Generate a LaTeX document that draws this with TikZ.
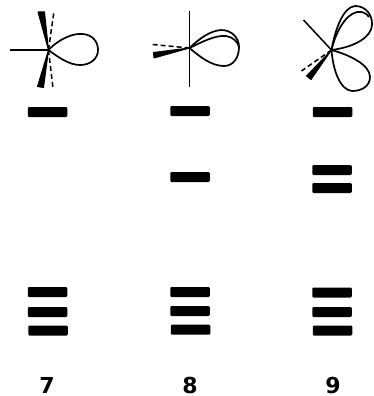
\documentclass[tikz,border=0pt]{standalone}
\usepackage{fontspec}
\setmainfont{DejaVu Sans}
\tikzset{
  level/.style={fill=black,rounded corners=1.2pt,minimum width=39.5pt,minimum height=10pt,inner sep=0pt,outer sep=0pt},
  lobe/.style={line width=1.7pt,line join=round},
  axis/.style={line width=1.5pt},
  dashaxis/.style={line width=1.5pt,dash pattern=on 5pt off 3pt},
  wedge/.style={fill=black,line join=round,draw=black,line width=1pt},
  lab/.style={font=\bfseries\fontsize{22}{22}\selectfont,inner sep=0pt}
}
\begin{document}
\begin{tikzpicture}[x=1pt,y=-1pt]
\useasboundingbox (0,0) rectangle (373,396);
% column 7
\coordinate (c7) at (48.5,50);
\coordinate (l7) at (10,50);
\coordinate (dt7) at (54,11);
\coordinate (db7) at (53,88);
\draw[axis] (l7) -- (c7);
\draw[dashaxis] (c7) -- (dt7);
\draw[dashaxis] (c7) -- (db7);
\fill[wedge] (c7) -- (44.5,12) -- (38,12) -- cycle;
\fill[wedge] (c7) -- (43.5,87.5) -- (37.5,86.5) -- cycle;
\draw[lobe] (c7) .. controls (60,38) and (74,33) .. (83,34) .. controls (93,35) and (98,42) .. (98,50) .. controls (98,59) and (90,65) .. (80,65) .. controls (69,65) and (58,57) .. (c7);
\node[level] (a1) at (47.5,112) {};
\node[level] (a2) at (47.5,292) {};
\node[level] (a3) at (47.5,312) {};
\node[level] (a4) at (48,330.5) {};
\node[lab] (t7) at (47,385.5) {7};
% column 8
\coordinate (c8) at (189.5,48);
\coordinate (vt8) at (189.7,11);
\coordinate (vb8) at (189.7,87);
\coordinate (d8) at (152.5,44.5);
\draw[axis] (vt8) -- (vb8);
\draw[dashaxis] (c8) -- (d8);
\fill[wedge] (c8) -- (153.5,52.5) -- (154,58) -- cycle;
\draw[lobe] (c8) .. controls (200,38) and (210,31) .. (221,30) .. controls (232,30) and (239,38) .. (239,47) .. controls (239,58) and (233,66) .. (224,66) .. controls (211,66) and (199,56) .. (c8);
\draw[lobe] (c8) .. controls (202,42) and (215,35) .. (226,36) .. controls (233,37) and (238,42) .. (239,47);
\node[level] (b1) at (190,111) {};
\node[level] (b0) at (190,177) {};
\node[level] (b2) at (190,292) {};
\node[level] (b3) at (190,311) {};
\node[level] (b4) at (190.5,329.7) {};
\node[lab] (t8) at (190,385.5) {8};
% column 9
\coordinate (c9) at (331.5,50);
\coordinate (l9) at (303.5,20);
\coordinate (d9) at (301.5,71);
\draw[axis] (l9) -- (c9);
\draw[dashaxis] (c9) -- (d9);
\fill[wedge] (c9) -- (311,79.5) -- (306.5,76) -- cycle;
\draw[lobe] (c9) .. controls (335,30) and (343,7) .. (355,6) .. controls (366,6) and (372.5,15) .. (372,25) .. controls (371.5,37) and (355,47) .. (c9);
\draw[lobe] (c9) .. controls (335,35) and (344,15) .. (357,12) .. controls (363,11) and (367,14) .. (369,17);
\draw[lobe] (c9) .. controls (333,70) and (340,90) .. (352,91) .. controls (362,91) and (370,86) .. (370,77) .. controls (370,65) and (350,55) .. (c9);
\node[level] (e1) at (332.5,112) {};
\node[level] (e0a) at (332,170) {};
\node[level] (e0b) at (332,188) {};
\node[level] (e2) at (332,292.5) {};
\node[level] (e3) at (332,312) {};
\node[level] (e4) at (332.5,330.5) {};
\node[lab] (t9) at (333,385.5) {9};
\end{tikzpicture}
\end{document}
